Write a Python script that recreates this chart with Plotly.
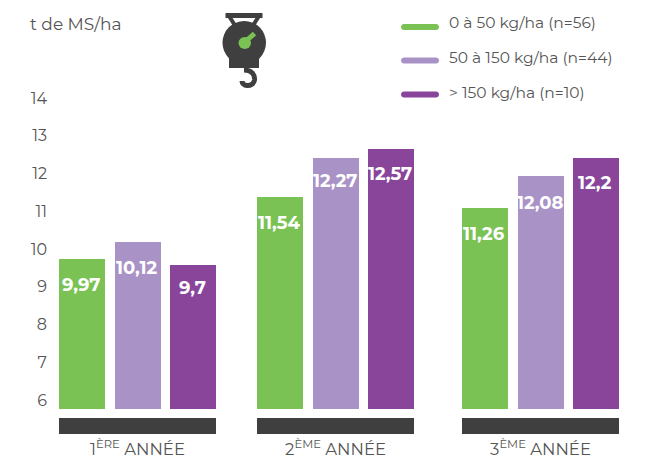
import plotly.graph_objects as go

years = ["1<sup>ÈRE</sup> ANNÉE", "2<sup>ÈME</sup> ANNÉE", "3<sup>ÈME</sup> ANNÉE"]
series_names = ["0 à 50 kg/ha (n=56)", "50 à 150 kg/ha (n=44)", "> 150 kg/ha (n=10)"]
bar_tops_low = [9.73, 11.38, 11.09]
bar_tops_mid = [10.19, 12.41, 11.93]
bar_tops_high = [9.58, 12.65, 12.41]
labels_low = ["9,97", "11,54", "11,26"]
labels_mid = ["10,12", "12,27", "12,08"]
labels_high = ["9,7", "12,57", "12,2"]
y_ticks = [6, 7, 8, 9, 10, 11, 12, 13, 14]

FONT = "Montserrat, Inter, sans-serif"
GREEN, LILAC, PURPLE, DARK, TXT = "#7AC254", "#A992C6", "#88459A", "#3F3F3F", "#555555"
W, H, ML, MB = 666, 459, 50, 22
PX_PER_UNIT = 37.75
PIX_6 = 400
BASE = 6 - (409 - PIX_6) / PX_PER_UNIT
BAND_LOW = 6 - (434 - PIX_6) / PX_PER_UNIT
BAND_HIGH = 6 - (418 - PIX_6) / PX_PER_UNIT
group_x = [137.5, 335.5, 540.5]
offsets = [-55.5, 0.5, 55.5]
label_shifts = [[-26, -26, -26], [-26, -23, -27], [-23, -25, -25]]
BAR_W, BAND_W = 46, 157

fig = go.Figure()
annots = []
for vals, labs, col, off, name, shifts in zip(
    [bar_tops_low, bar_tops_mid, bar_tops_high],
    [labels_low, labels_mid, labels_high],
    [GREEN, LILAC, PURPLE], offsets, series_names, label_shifts):
    xs = [g + off for g in group_x]
    fig.add_trace(go.Bar(x=xs, y=[v - BASE for v in vals], base=BASE, width=BAR_W,
                         marker=dict(color=col, line_width=0), name=name,
                         hoverinfo="skip", showlegend=False))
    for x, v, t, s in zip(xs, vals, labs, shifts):
        annots.append(dict(x=x, y=v, text=f"<b>{t}</b>", showarrow=False, yshift=s, xshift=-1,
                           font=dict(family=FONT, size=18, color="white")))

fig.add_trace(go.Bar(x=group_x, y=[BAND_HIGH - BAND_LOW] * 3, base=BAND_LOW, width=BAND_W,
                     marker=dict(color=DARK, line_width=0), hoverinfo="skip", showlegend=False))

# hidden pixel-space axis for the icon and legend keys
fig.add_trace(go.Scatter(x=[None], y=[None], yaxis="y2", showlegend=False))

def px_shape(**kw):
    kw.update(xref="x", yref="y2")
    return kw

shapes = []
for col, yc in zip([GREEN, LILAC, PURPLE], [27, 60.5, 94.5]):
    shapes.append(px_shape(type="path", line_width=0, fillcolor=col,
        path=f"M 404 {yc-3} L 436 {yc-3} C 440 {yc-3} 440 {yc+3} 436 {yc+3} "
             f"L 404 {yc+3} C 400 {yc+3} 400 {yc-3} 404 {yc-3} Z"))

dk = dict(color=DARK, width=5)
shapes += [
    px_shape(type="path", path="M 225.5 15.5 L 262.5 15.5", line=dk),
    px_shape(type="path", path="M 229 16 L 236 27", line=dict(color=DARK, width=4)),
    px_shape(type="path", path="M 259 16 L 252 27", line=dict(color=DARK, width=4)),
    px_shape(type="circle", x0=222.5, x1=266, y0=21, y1=64.5, fillcolor=DARK, line_width=0),
    px_shape(type="path", path="M 229 55 L 259 55 L 259 68 L 229 68 Z", fillcolor=DARK, line_width=0),
    px_shape(type="path", path="M 244 70 C 252 70 255 75 254.5 80 C 254 84 250 86 247 85.5 C 244 85.5 242 83 242 81",
             line=dict(color=DARK, width=5)),
    px_shape(type="circle", x0=238.5, x1=251, y0=37, y1=49, fillcolor=GREEN, line_width=0),
    px_shape(type="path", path="M 246 41 L 254.5 33.5", line=dict(color=GREEN, width=5)),
]

annots.append(dict(xref="paper", yref="paper", x=(28 - ML) / (W - ML), y=1 - 24 / (H - MB),
                   xanchor="left", yanchor="middle", text="t de MS/ha", showarrow=False,
                   font=dict(family=FONT, size=17, color=TXT)))
for name, yc in zip(series_names, [23, 57, 92]):
    annots.append(dict(xref="paper", yref="paper", x=(447 - ML) / (W - ML), y=1 - yc / (H - MB),
                       xanchor="left", yanchor="middle", text=name, showarrow=False,
                       font=dict(family=FONT, size=15.5, color=TXT)))

fig.update_layout(
    width=W, height=H, autosize=False, margin=dict(l=ML, r=0, t=0, b=MB),
    paper_bgcolor="white", plot_bgcolor="white", barmode="overlay", bargap=0,
    showlegend=False, shapes=shapes, annotations=annots,
    xaxis=dict(range=[ML, W], tickmode="array", tickvals=group_x, ticktext=years,
               showgrid=False, zeroline=False, showline=False, ticks="",
               tickfont=dict(family=FONT, size=16.5, color=TXT)),
    yaxis=dict(range=[6 - (H - MB - PIX_6) / PX_PER_UNIT, 6 + PIX_6 / PX_PER_UNIT],
               tickmode="array", tickvals=y_ticks, ticktext=[str(t) for t in y_ticks],
               showgrid=False, zeroline=False, showline=False, ticks="", ticklabelstandoff=2,
               tickfont=dict(family=FONT, size=16, color=TXT)),
    yaxis2=dict(range=[H - MB, 0], overlaying="y", visible=False),
)
fig.write_html("out.html", config=dict(displayModeBar=False),
               post_script="document.documentElement.style.overflow='hidden';document.body.style.margin='0';")
